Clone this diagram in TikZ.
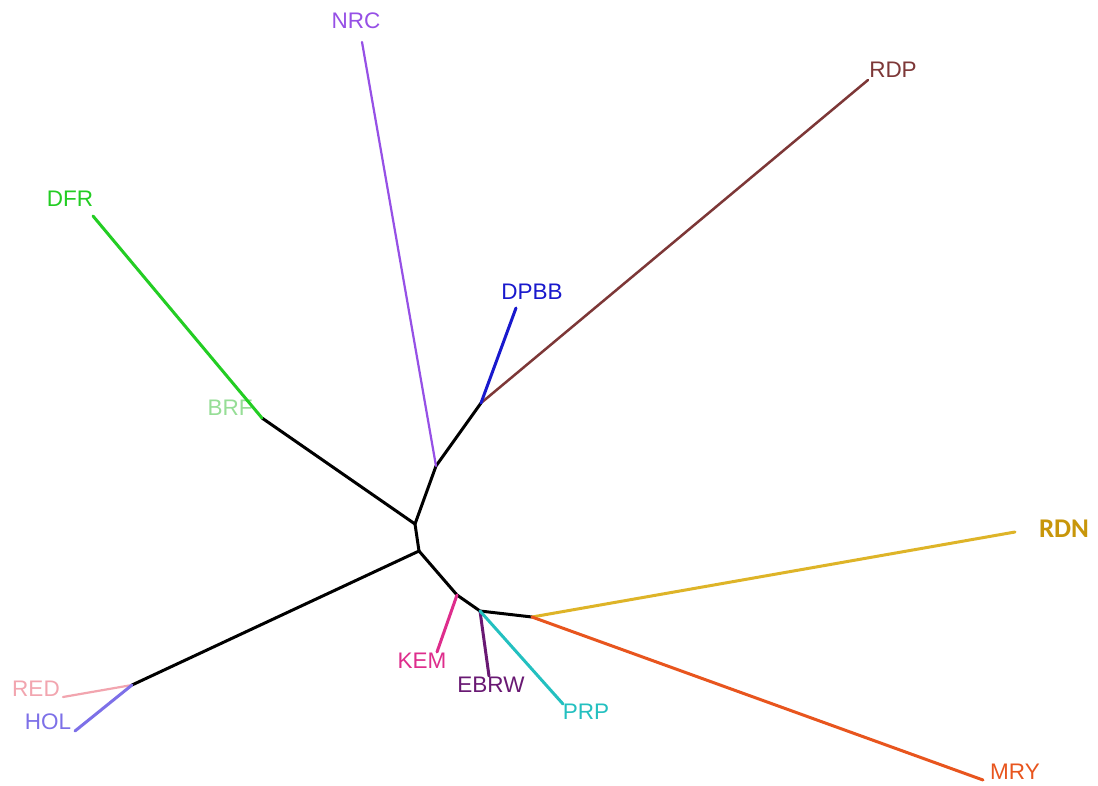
\documentclass[tikz,border=0pt]{standalone}
\usepackage{fontspec}
\setmainfont{Liberation Sans}
\newfontfamily\rdnfont{Carlito}
\definecolor{cNRC}{RGB}{150,80,230}
\definecolor{cRDP}{RGB}{125,55,55}
\definecolor{cDFR}{RGB}{35,205,35}
\definecolor{cBRF}{RGB}{150,222,150}
\definecolor{cDPBB}{RGB}{25,25,205}
\definecolor{cRDN}{RGB}{200,150,10}
\definecolor{cRDNl}{RGB}{222,180,40}
\definecolor{cMRY}{RGB}{232,85,30}
\definecolor{cKEM}{RGB}{222,45,140}
\definecolor{cEBRW}{RGB}{105,25,115}
\definecolor{cPRP}{RGB}{35,192,192}
\definecolor{cRED}{RGB}{242,165,175}
\definecolor{cHOL}{RGB}{125,112,232}
\tikzset{
  br/.style={line width=3pt, line cap=round, line join=round},
  lab/.style={font=\fontsize{22.5}{24}\selectfont, inner sep=0pt},
}
\begin{document}
\begin{tikzpicture}[x=1pt,y=-1pt]
\useasboundingbox[fill=white] (0,0) rectangle (1098,785);
% internal nodes
\coordinate (A) at (415,524);
\coordinate (B) at (419,551);
\coordinate (C) at (436,466);
\coordinate (D) at (481,403);
\coordinate (E) at (457,595);
\coordinate (F) at (480,611);
\coordinate (G) at (532,617);
\coordinate (H) at (132,685);
\coordinate (BRFn) at (262,418);
% leaf tips
\coordinate (tNRC) at (362,42);
\coordinate (tRDP) at (868,80);
\coordinate (tDFR) at (93,216);
\coordinate (tDPBB) at (516,308);
\coordinate (tRDN) at (1015,532);
\coordinate (tMRY) at (983,780);
\coordinate (tKEM) at (437,652);
\coordinate (tEBRW) at (489,676);
\coordinate (tPRP) at (563,704);
\coordinate (tRED) at (63,697);
\coordinate (tHOL) at (75,731);
% labels
\node[lab, text=cNRC] (lNRC) at (356,21) {NRC};
\node[lab, text=cRDP] (lRDP) at (893,70) {RDP};
\node[lab, text=cDFR] (lDFR) at (70,199) {DFR};
\node[lab, text=cDPBB] (lDPBB) at (532,292) {DPBB};
\node[lab, text=cBRF] (lBRF) at (230,408) {BRF};
\node[inner sep=0pt, text=cRDN, font=\rdnfont\bfseries\fontsize{27}{29}\selectfont] (lRDN) at (1064,529) {RDN};
\node[lab, text=cMRY] (lMRY) at (1015,772) {MRY};
\node[lab, text=cKEM] (lKEM) at (422,661) {KEM};
\node[lab, text=cEBRW] (lEBRW) at (491,685) {EBRW};
\node[lab, text=cPRP] (lPRP) at (586,712) {PRP};
\node[lab, text=cRED] (lRED) at (36,689) {RED};
\node[lab, text=cHOL] (lHOL) at (48,722) {HOL};
% internal black branches
\draw[br, black] (BRFn) -- (A) -- (B) -- (H);
\draw[br, black] (A) -- (C) -- (D);
\draw[br, black] (B) -- (E) -- (F) -- (G);
% coloured leaves
\draw[br, cDFR] (BRFn) -- (tDFR);
\draw[br, cNRC, line width=2.2pt] (C) -- (tNRC);
\draw[br, cRDP, line width=2.5pt] (D) -- (tRDP);
\draw[br, cDPBB] (D) -- (tDPBB);
\draw[br, cRDNl] (G) -- (tRDN);
\draw[br, cMRY] (G) -- (tMRY);
\draw[br, cKEM] (E) -- (tKEM);
\draw[br, cEBRW] (F) -- (tEBRW);
\draw[br, cPRP] (F) -- (tPRP);
\draw[br, cRED, line width=2.2pt] (H) -- (tRED);
\draw[br, cHOL] (H) -- (tHOL);
\end{tikzpicture}
\end{document}
